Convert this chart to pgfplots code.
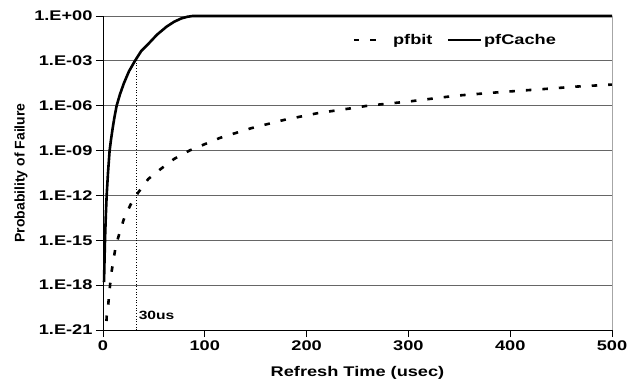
\documentclass[border=0pt]{standalone}
\usepackage{fontspec}
\setmainfont{Liberation Sans}[FakeStretch=1.3]
\newfontfamily\ylfont{Liberation Sans}
\usepackage{pgfplots}
\pgfplotsset{compat=1.18}
\pgfplotsset{
  legA/.style={legend image code/.code={\draw[##1] (0bp,0bp) -- (23bp,0bp); \path (36bp,0bp);}},
  legB/.style={legend image code/.code={\draw[##1] (0bp,0bp) -- (33bp,0bp);}},
}
\begin{document}
\begin{tikzpicture}
\begin{axis}[
  scale only axis, width=509bp, height=314bp,
  xmin=0, xmax=500, ymin=1e-21, ymax=1, ymode=log,
  xtick={0,100,200,300,400,500},
  ytick={1e-21,1e-18,1e-15,1e-12,1e-9,1e-6,1e-3,1},
  yticklabels={1.E-21,1.E-18,1.E-15,1.E-12,1.E-09,1.E-06,1.E-03,1.E+00},
  axis x line*=bottom, axis y line*=left,
  tick align=outside, major tick length=7bp,
  ymajorgrids, grid style={black!60, line width=0.8bp},
  axis line style={black, line width=0.8bp},
  every tick/.style={black, line width=0.8bp},
  /pgf/number format/assume math mode=true,
  ticklabel style={font=\fontsize{14bp}{16bp}\selectfont\bfseries},
  xlabel={Refresh Time (usec)}, ylabel={Probability of Failure},
  xlabel style={font=\fontsize{14bp}{16bp}\selectfont\bfseries, at={(axis description cs:0.5,-0.137)}, anchor=center},
  ylabel style={font=\ylfont\fontsize{14bp}{16bp}\selectfont\bfseries, at={(axis description cs:-0.161,0.5)}, anchor=center},
  legend columns=2,
  legend style={draw=none, fill=none, at={(rel axis cs:0.9,0.924)}, anchor=east,
    font=\fontsize{14bp}{16bp}\selectfont\bfseries,
    /tikz/every even column/.append style={column sep=12bp}},
  clip=false,
]
\addplot[black, line width=2.6bp, dash pattern=on 5.5bp off 11bp, legA] coordinates {
(3.4,4.0e-21) (3.6,7.9e-21) (5.2,5.4e-20) (6.2,3.0e-19) (7.9,4.7e-18) (10.1,4.0e-17)
(12.5,4.0e-16) (16.7,4.0e-15) (20.9,3.2e-14) (27.2,2.5e-13) (34.7,1.6e-12)
(44.5,1.26e-11) (56,5.4e-11) (70,2.8e-10) (85.5,1.05e-9) (115,7.1e-9)
(146,3.2e-8) (179,1.17e-7) (211,3.2e-7) (246,7.1e-7) (260,1.0e-6)
(300,1.9e-6) (347,4.7e-6) (390,8.1e-6) (432,1.29e-5) (465,1.9e-5) (500,2.6e-5)
};
\addlegendentry{pfbit}
\addplot[black, line width=2.6bp, legB] coordinates {
(1,1.58e-18) (1.5,5.0e-17) (2,1.26e-15) (2.8,5.0e-14) (3.6,1.0e-12) (4.9,3.16e-11)
(6.5,1.0e-9) (7.9,5.6e-9) (9.5,3.16e-8) (11.3,1.78e-7) (13.4,1.0e-6) (16.6,5.6e-6)
(20.5,3.16e-5) (25.5,2.0e-4) (31.4,1.0e-3) (37.5,4.5e-3) (45.5,1.6e-2) (53,5.6e-2)
(62.5,0.195) (70,0.417) (77,0.692) (83,0.891) (88,1) (500,1)
};
\addlegendentry{pfCache}
\addplot[black, line width=0.7bp, dotted, forget plot] coordinates {(33,1e-21) (33,1.5e-3)};
\node[anchor=west, inner sep=1bp, font=\fontsize{12bp}{14bp}\selectfont\bfseries] at (axis cs:34,1e-20) {30us};
\draw[black!35, line width=0.8bp] (rel axis cs:1,0) -- (rel axis cs:1,1);
\end{axis}
\pgfresetboundingbox
\path[use as bounding box] ([xshift=-103bp,yshift=-51bp]current axis.south west) rectangle ([xshift=23bp,yshift=16bp]current axis.north east);
\end{tikzpicture}
\end{document}
